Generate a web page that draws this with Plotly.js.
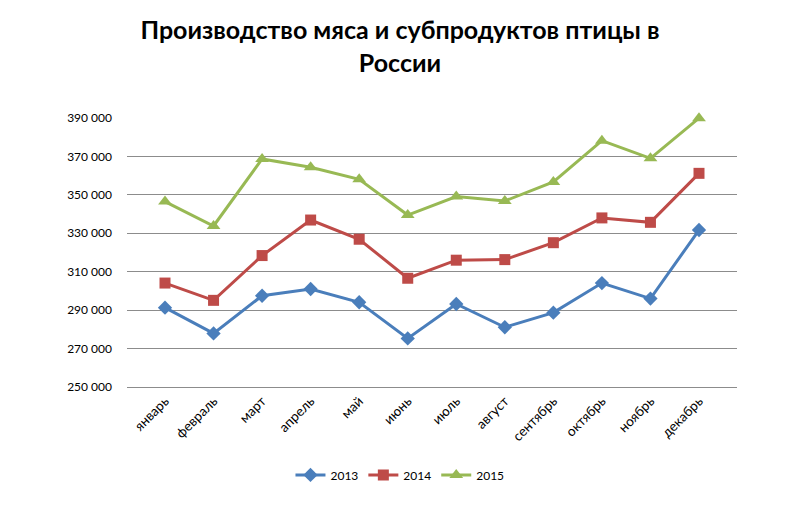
<!DOCTYPE html>
<html>
<head>
<meta charset="utf-8">
<script src="https://cdn.plot.ly/plotly-3.0.1.min.js"></script>
<style>
  html, body { margin: 0; padding: 0; background: #fff; }
  #chart { width: 800px; height: 505px; }
</style>
</head>
<body>
<div id="chart"></div>
<script>
const months = ["январь", "февраль", "март", "апрель", "май", "июнь",
  "июль", "август", "сентябрь", "октябрь", "ноябрь", "декабрь"];
const y2013 = [291300, 277900, 297500, 301000, 294100, 275300,
  293200, 281100, 288700, 304100, 296000, 331700];
const y2014 = [304100, 295100, 318400, 336900, 326900, 306600,
  316000, 316300, 325100, 338000, 335700, 361200];
const y2015 = [346500, 333800, 368700, 364400, 358100, 339500,
  349100, 346800, 356700, 378200, 369000, 389900];

const FONT = "Lato, 'Open Sans', sans-serif";

function series(name, y, color, symbol, size) {
  return {
    x: months, y: y, name: name, type: "scatter", mode: "lines+markers",
    cliponaxis: false,
    line: {color: color, width: 3},
    marker: {color: color, symbol: symbol, size: size}
  };
}

const data = [
  series("2013", y2013, "#4a7ebb", "diamond", 11),
  series("2014", y2014, "#be4b48", "square", 11),
  series("2015", y2015, "#98b954", "triangle-up", 12)
];

const layout = {
  width: 800, height: 505,
  margin: {l: 127, r: 63, t: 118, b: 118},
  paper_bgcolor: "#fff", plot_bgcolor: "#fff",
  separators: ", ",
  font: {family: FONT, size: 12, color: "#000"},
  showlegend: true,
  title: {
    text: "<b>Производство мяса и субпродуктов птицы в<br>России</b>",
    font: {family: FONT, size: 25, color: "#000"},
    x: 0.5, xanchor: "center", y: 0.922, yanchor: "top"
  },
  xaxis: {
    type: "category", tickangle: -45, showgrid: false, zeroline: false,
    showline: true, linecolor: "#8c8c8c", linewidth: 1, ticks: "",
    tickfont: {size: 13.5}
  },
  yaxis: {
    range: [250000, 390000], dtick: 20000, tick0: 250000, tickformat: ",d",
    showgrid: true, gridcolor: "#8c8c8c", gridwidth: 1, zeroline: false,
    showline: false, ticks: "", ticklabelstandoff: 14, tickfont: {size: 12}
  },
  legend: {
    orientation: "h", x: 0.4475, xanchor: "center",
    y: -0.327, yanchor: "middle", font: {size: 12}
  }
};

Plotly.newPlot("chart", data, layout, {displayModeBar: false, staticPlot: true});
</script>
</body>
</html>
